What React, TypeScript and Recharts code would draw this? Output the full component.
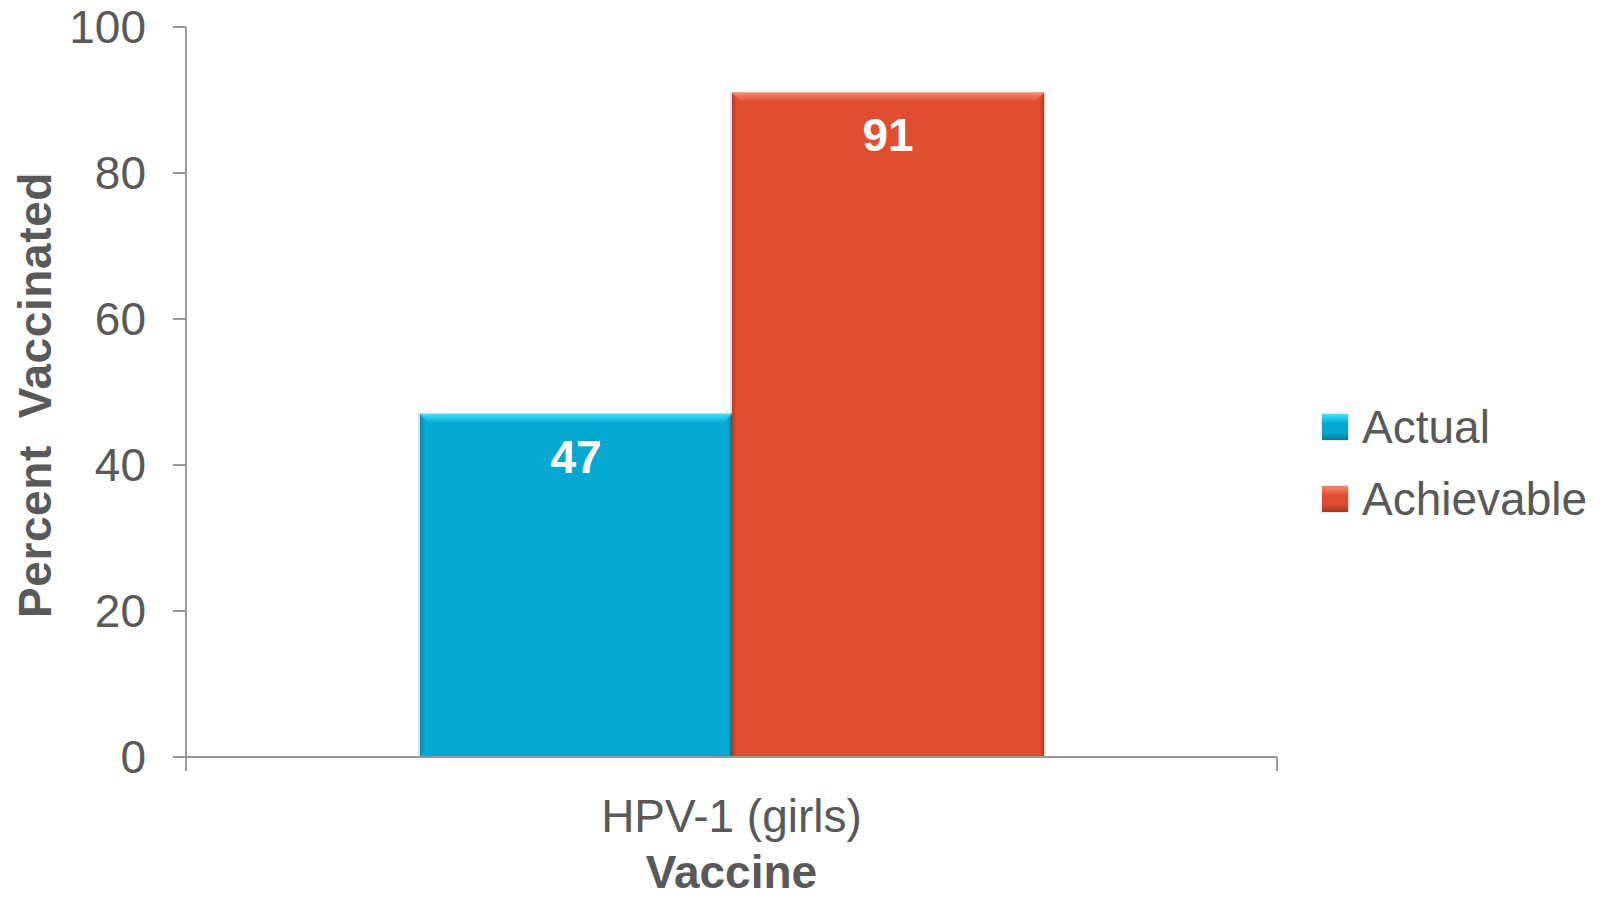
import React from 'react';
import { BarChart, Bar, XAxis, YAxis, LabelList } from 'recharts';

const categories = ['HPV-1 (girls)'];
const actualValues = [47];
const achievableValues = [91];
const yTicks = [0, 20, 40, 60, 80, 100];
const seriesNames = ['Actual', 'Achievable'];

const data = categories.map((c, i) => ({
  name: c,
  Actual: actualValues[i],
  Achievable: achievableValues[i],
}));

const FONT = '"Liberation Sans", Arial, sans-serif';
const TEXT = '#595959';
const AXIS = '#989898';
const BLUE = '#05A8D0';
const RED = '#E04D31';
const seriesColors = [BLUE, RED];

const light: Record<string, string> = { [BLUE]: '#40E2FF', [RED]: '#F8896C' };
const dark: Record<string, string> = { [BLUE]: '#03799A', [RED]: '#A8361F' };

const BevelBar = (props: any) => {
  const { x, y, width, height, fill } = props;
  if (!height || height <= 0) return null;
  const id = `g${fill.replace('#', '')}`;
  const b = 9;
  return (
    <g>
      <defs>
        <linearGradient id={`${id}t`} x1="0" y1="0" x2="0" y2="1">
          <stop offset="0" stopColor={light[fill]} />
          <stop offset="1" stopColor={fill} />
        </linearGradient>
        <linearGradient id={`${id}r`} x1="0" y1="0" x2="1" y2="0">
          <stop offset="0" stopColor={fill} />
          <stop offset="1" stopColor={dark[fill]} />
        </linearGradient>
        <linearGradient id={`${id}l`} x1="0" y1="0" x2="1" y2="0">
          <stop offset="0" stopColor={dark[fill]} stopOpacity={0.6} />
          <stop offset="1" stopColor={fill} />
        </linearGradient>
      </defs>
      <rect x={x - 2} y={y - 1} width={width + 4} height={height + 1} fill="#000" opacity={0.12} />
      <rect x={x} y={y} width={width} height={height} fill={fill} />
      <polygon points={`${x},${y} ${x + width},${y} ${x + width - b},${y + b} ${x + b},${y + b}`} fill={`url(#${id}t)`} />
      <polygon points={`${x + width},${y} ${x + width},${y + height} ${x + width - 4},${y + height - 4} ${x + width - 4},${y + b}`} fill={`url(#${id}r)`} />
      <polygon points={`${x},${y} ${x + 4},${y + b} ${x + 4},${y + height - 4} ${x},${y + height}`} fill={`url(#${id}l)`} />
    </g>
  );
};

const XTick = (props: any) => {
  const { x, y, payload } = props;
  const off = payload.offset || 0;
  return (
    <g>
      <line x1={x - off} y1={y} x2={x - off} y2={y + 14} stroke={AXIS} strokeWidth={2} />
      <line x1={x + off} y1={y} x2={x + off} y2={y + 14} stroke={AXIS} strokeWidth={2} />
      <text x={x} y={y + 75} textAnchor="middle" fill={TEXT} fontSize={46} fontFamily={FONT}>
        {payload.value}
      </text>
    </g>
  );
};

const YLabel = (props: any) => {
  const vb = props.viewBox || { x: 0, y: 0, width: 186, height: 730 };
  const cx = vb.x + 35;
  const cy = vb.y + vb.height / 2 + 3;
  return (
    <text
      x={cx}
      y={cy}
      transform={`rotate(-90 ${cx} ${cy})`}
      textAnchor="middle"
      dominantBaseline="central"
      fill={TEXT}
      fontSize={46}
      fontWeight="bold"
      fontFamily={FONT}
      letterSpacing={0.6}
      style={{ whiteSpace: 'pre' }}
    >
      {'Percent  Vaccinated'}
    </text>
  );
};

const ChartLegend = () => (
  <div
    style={{
      position: 'absolute',
      left: 1322,
      top: 391,
      fontFamily: FONT,
      fontSize: 46,
      color: TEXT,
    }}
  >
    {seriesNames.map((name, i) => {
      const c = seriesColors[i];
      return (
        <div key={name} style={{ display: 'flex', alignItems: 'center', height: 72, lineHeight: '72px', whiteSpace: 'nowrap' }}>
          <span
            style={{
              display: 'inline-block',
              width: 26,
              height: 26,
              background: `linear-gradient(${light[c]}, ${c} 35%, ${c} 70%, ${dark[c]})`,
              marginRight: 14,
              boxShadow: '0 0 2px rgba(0,0,0,0.3)',
            }}
          />
          <span>{name}</span>
        </div>
      );
    })}
  </div>
);

export default function App() {
  return (
    <div style={{ position: 'absolute', left: 0, top: 0, width: 1608, height: 899, background: '#fff' }}>
      <BarChart
        width={1608}
        height={899}
        data={data}
        margin={{ top: 27, right: 331, bottom: 0, left: 0 }}
        barGap={0}
        barSize={312}
      >
        <XAxis
          dataKey="name"
          height={142}
          axisLine={{ stroke: AXIS, strokeWidth: 2 }}
          tickLine={false}
          tickSize={0}
          tickMargin={0}
          tick={<XTick />}
          label={{
            value: 'Vaccine',
            position: 'insideBottom',
            offset: 11,
            fill: TEXT,
            fontSize: 46,
            fontWeight: 'bold',
            fontFamily: FONT,
          }}
        />
        <YAxis
          width={186}
          domain={[0, 100]}
          ticks={yTicks}
          interval={0}
          axisLine={{ stroke: AXIS, strokeWidth: 2 }}
          tickLine={{ stroke: AXIS, strokeWidth: 2 }}
          tickSize={13}
          tickMargin={27}
          tick={{ fill: TEXT, fontSize: 46, fontFamily: FONT }}
          label={<YLabel />}
        />
        <Bar dataKey="Actual" name={seriesNames[0]} fill={BLUE} shape={<BevelBar />} isAnimationActive={false}>
          <LabelList
            dataKey="Actual"
            position="insideTop"
            offset={26}
            fill="#fff"
            fontSize={46}
            fontWeight="bold"
            fontFamily={FONT}
          />
        </Bar>
        <Bar dataKey="Achievable" name={seriesNames[1]} fill={RED} shape={<BevelBar />} isAnimationActive={false}>
          <LabelList
            dataKey="Achievable"
            position="insideTop"
            offset={26}
            fill="#fff"
            fontSize={46}
            fontWeight="bold"
            fontFamily={FONT}
          />
        </Bar>
      </BarChart>
      <ChartLegend />
    </div>
  );
}
